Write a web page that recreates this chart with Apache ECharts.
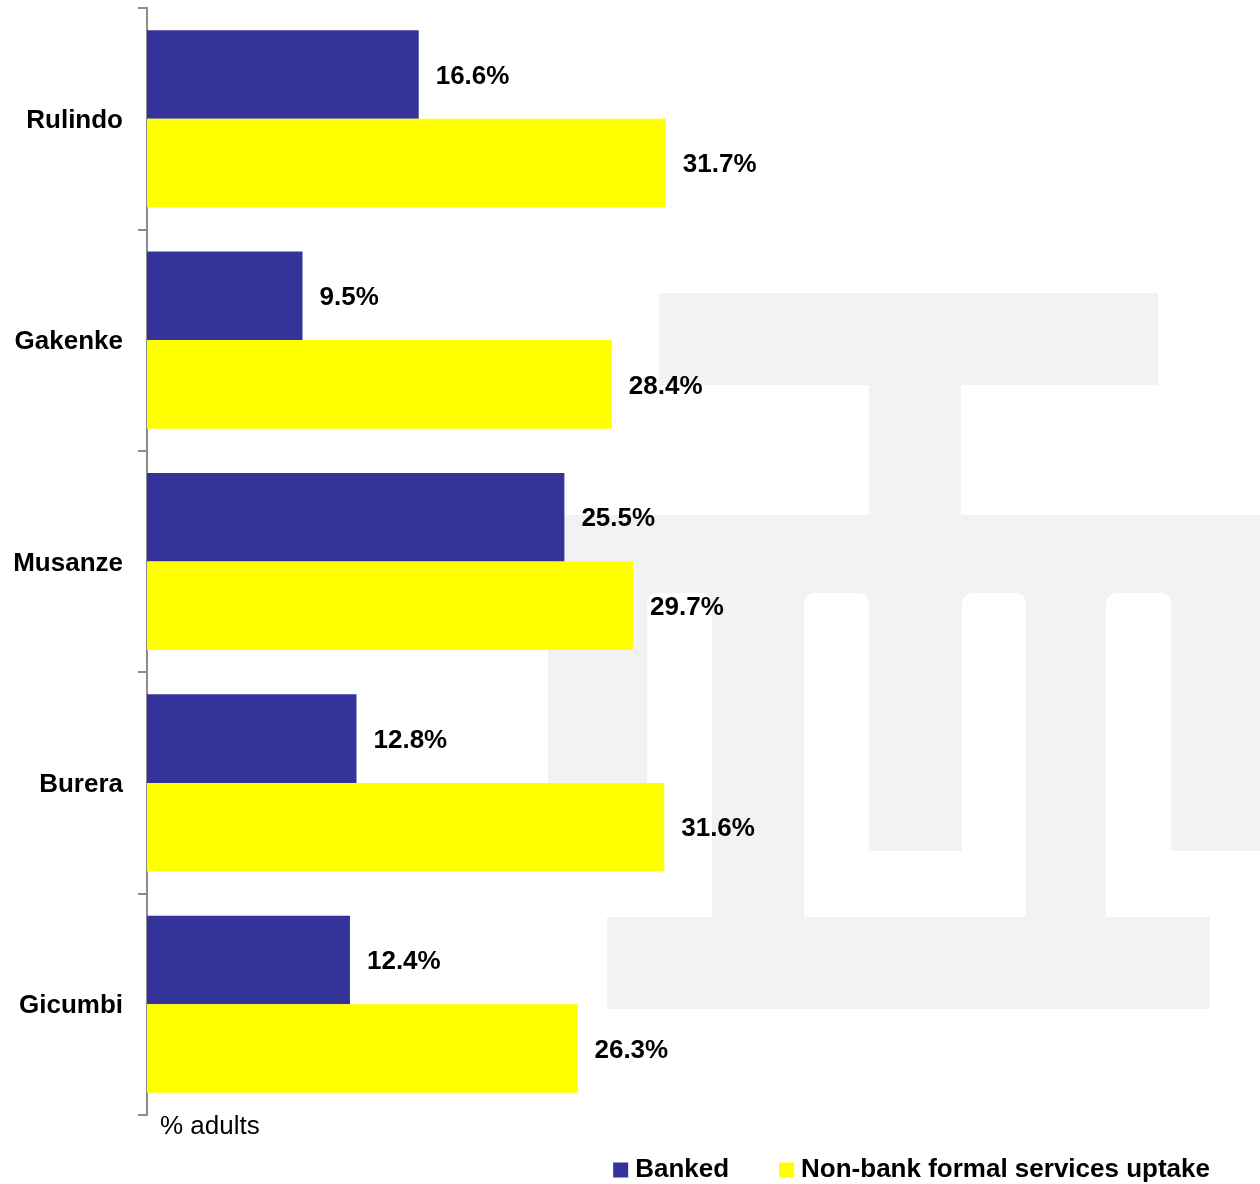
<!DOCTYPE html>
<html>
<head>
<meta charset="utf-8">
<title>Banked vs non-bank formal services uptake by district</title>
<script src="https://cdn.jsdelivr.net/npm/echarts@6/dist/echarts.min.js"></script>
<style>
  html, body { margin: 0; padding: 0; background: #ffffff; }
  #chart { width: 1260px; height: 1184px; }
</style>
</head>
<body>
<div id="chart"></div>
<script>
// Districts, top to bottom
const districts = ['Rulindo', 'Gakenke', 'Musanze', 'Burera', 'Gicumbi'];
// Share of adults (%)
const banked = [16.6, 9.5, 25.5, 12.8, 12.4];
const nonBank = [31.7, 28.4, 29.7, 31.6, 26.3];
const seriesNames = ['Banked', 'Non-bank formal services uptake'];
const axisNote = '% adults';

const FONT = '"Liberation Sans", Arial, Helvetica, sans-serif';
const BLUE = '#333399';
const YELLOW = '#ffff00';
const MARK = '#f2f2f2';

// Light background emblem drawn behind the bars
function emblem() {
  const g = (x, y, w, h, fill, r) => ({
    type: 'rect', z: -10, silent: true,
    shape: { x: x, y: y, width: w, height: h, r: r || 0 },
    style: { fill: fill }
  });
  const slotR = [10, 10, 0, 0];
  return [
    g(659, 293, 499, 92, MARK),           // top bar
    g(869, 385, 92, 131, MARK),           // stem
    g(548, 515, 712, 402, MARK),          // body
    g(647, 593, 65, 324, '#ffffff', slotR),
    g(804, 593, 65, 324, '#ffffff', slotR),
    g(962, 593, 64, 324, '#ffffff', slotR),
    g(1106, 593, 65, 324, '#ffffff', slotR),
    g(548, 783, 164, 134, '#ffffff'),
    g(804, 851, 222, 66, '#ffffff'),
    g(1106, 851, 154, 66, '#ffffff'),
    g(607, 917, 603, 92, MARK)            // base
  ];
}

const chart = echarts.init(document.getElementById('chart'), null, { renderer: 'canvas' });

const labelStyle = {
  show: true,
  position: 'right',
  distance: 17,
  offset: [0, 2],
  color: '#000000',
  fontFamily: FONT,
  fontWeight: 'bold',
  fontSize: 26,
  formatter: p => p.value.toFixed(1) + '%'
};

chart.setOption({
  animation: false,
  backgroundColor: '#ffffff',
  grid: { left: 147, right: 0, top: 8, bottom: 69, containLabel: false },
  xAxis: {
    type: 'value',
    min: 0,
    max: 68,
    show: false
  },
  yAxis: {
    type: 'category',
    data: districts,
    inverse: true,
    axisLine: { show: true, lineStyle: { color: '#8c8c8c', width: 2 } },
    axisTick: { show: true, length: 9, lineStyle: { color: '#8c8c8c', width: 2 } },
    axisLabel: {
      margin: 24,
      color: '#000000',
      fontFamily: FONT,
      fontWeight: 'bold',
      fontSize: 26,
      formatter: v => '{d|' + v + '}',
      rich: { d: { fontFamily: FONT, fontWeight: 'bold', fontSize: 26, color: '#000000', padding: [4, 0, 0, 0] } }
    },
    splitLine: { show: false }
  },
  legend: {
    right: 45,
    top: 1152,
    icon: 'rect',
    itemWidth: 15,
    itemHeight: 15,
    itemGap: 50,
    textStyle: {
      color: '#000000',
      fontFamily: FONT,
      fontWeight: 'bold',
      fontSize: 26,
      padding: [0, 0, 0, 2]
    },
    data: seriesNames
  },
  graphic: {
    elements: emblem().concat([{
      type: 'text',
      left: 160,
      top: 1114,
      z: 5,
      style: {
        text: axisNote,
        fill: '#000000',
        font: '26px ' + FONT
      }
    }])
  },
  series: [
    {
      name: seriesNames[0],
      type: 'bar',
      data: banked,
      barCategoryGap: '20%',
      barGap: '0%',
      itemStyle: { color: BLUE },
      label: labelStyle
    },
    {
      name: seriesNames[1],
      type: 'bar',
      data: nonBank,
      barCategoryGap: '20%',
      barGap: '0%',
      itemStyle: { color: YELLOW },
      label: labelStyle
    }
  ]
});
</script>
</body>
</html>
